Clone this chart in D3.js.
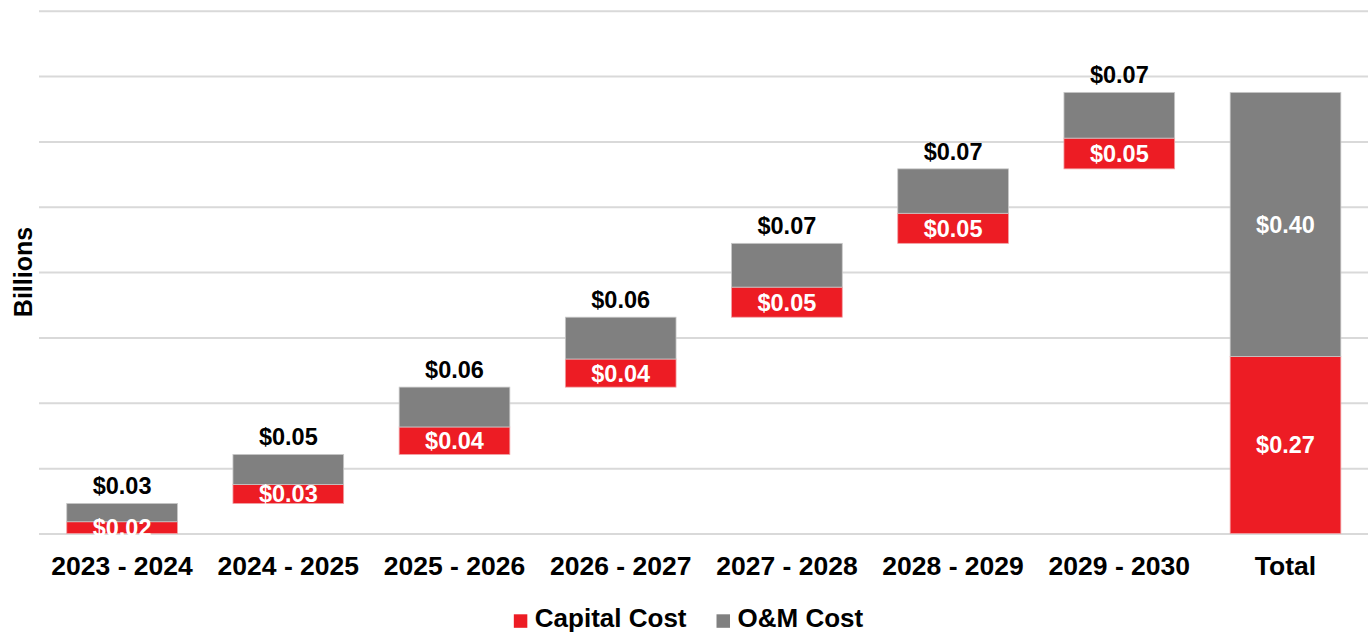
<!DOCTYPE html>
<html>
<head>
<meta charset="utf-8">
<script src="https://cdn.jsdelivr.net/npm/d3@7"></script>
<style>
  html, body { margin: 0; padding: 0; background: #ffffff; }
  svg { display: block; font-family: "Liberation Sans", Arial, sans-serif; }
</style>
</head>
<body>
<svg id="chart" width="1368" height="633"></svg>
<script>
// ---- data ----
const categories = ["2023 - 2024", "2024 - 2025", "2025 - 2026", "2026 - 2027", "2027 - 2028", "2028 - 2029", "2029 - 2030"];
const totalLabel = "Total";
const capitalCost = [0.018, 0.029, 0.042, 0.043, 0.046, 0.046, 0.047];
const omCost = [0.028, 0.046, 0.061, 0.064, 0.067, 0.068, 0.070];
const gridTicks = [0, 0.1, 0.2, 0.3, 0.4, 0.5, 0.6, 0.7, 0.8];
const seriesNames = ["Capital Cost", "O&M Cost"];
const yTitle = "Billions";

// ---- styles ----
const RED = "#ED1C24", GRAY = "#808080";
const W = 1368, H = 633;
const svg = d3.select("#chart");
svg.append("rect").attr("width", W).attr("height", H).attr("fill", "#fff");

// ---- build waterfall rows ----
let cum = 0;
const rows = categories.map((c, i) => {
  const base = cum;
  cum += capitalCost[i] + omCost[i];
  return { cat: c, base, cap: capitalCost[i], om: omCost[i], total: false };
});
rows.push({ cat: totalLabel, base: 0, cap: d3.sum(capitalCost), om: d3.sum(omCost), total: true });

const x = d3.scaleBand().domain(rows.map(d => d.cat)).range([39, 1368.6]).paddingInner(0.334).paddingOuter(0.167);
const y = d3.scaleLinear().domain([0, 0.8]).range([533.5, 10.7]);
const fmt = v => "$" + d3.format(".2f")(v);

// gridlines
const grid = svg.append("g").attr("transform", "translate(39,0)")
  .call(d3.axisLeft(y).tickValues(gridTicks).tickSize(-(W - 39)).tickFormat(""));
grid.select(".domain").remove();
grid.selectAll(".tick line").attr("stroke", "#d9d9d9").attr("stroke-width", 2);

// bars
const g = svg.append("g");
const bar = g.selectAll("g.bar").data(rows).join("g").attr("class", "bar");
bar.append("rect")
  .attr("x", d => x(d.cat)).attr("width", x.bandwidth())
  .attr("y", d => y(d.base + d.cap)).attr("height", d => y(d.base) - y(d.base + d.cap))
  .attr("fill", RED).attr("stroke", "#f0a0a3").attr("stroke-width", 0.8);
bar.append("rect")
  .attr("x", d => x(d.cat)).attr("width", x.bandwidth())
  .attr("y", d => y(d.base + d.cap + d.om)).attr("height", d => y(d.base + d.cap) - y(d.base + d.cap + d.om))
  .attr("fill", GRAY).attr("stroke", "#c8c8c8").attr("stroke-width", 0.8);

// red labels (white, centred in capital segment)
bar.append("text")
  .attr("x", d => x(d.cat) + x.bandwidth() / 2)
  .attr("y", d => (y(d.base) + y(d.base + d.cap)) / 2)
  .attr("dy", "0.36em")
  .attr("text-anchor", "middle").attr("fill", "#fff")
  .attr("font-size", 23.5).attr("font-weight", "bold")
  .text(d => fmt(d.cap));

// O&M labels: above bar (black) for years, inside (white) for total
bar.append("text")
  .attr("x", d => x(d.cat) + x.bandwidth() / 2)
  .attr("y", d => d.total ? (y(d.base + d.cap) + y(d.base + d.cap + d.om)) / 2 : y(d.base + d.cap + d.om) - 9)
  .attr("dy", d => d.total ? "0.36em" : 0)
  .attr("text-anchor", "middle").attr("fill", d => d.total ? "#fff" : "#000")
  .attr("font-size", 23.5).attr("font-weight", "bold")
  .text(d => fmt(d.om));

// x axis labels
const xa = svg.append("g").attr("transform", "translate(0,533.5)")
  .call(d3.axisBottom(x).tickSize(0).tickPadding(0));
xa.select(".domain").remove();
xa.selectAll(".tick text")
  .attr("y", 41).attr("dy", 0)
  .attr("font-size", 26.5).attr("font-weight", "bold").attr("fill", "#000")
  .attr("font-family", "Liberation Sans, Arial, sans-serif");

// y title
svg.append("text")
  .attr("transform", "translate(31.5,272) rotate(-90)")
  .attr("text-anchor", "middle")
  .attr("font-size", 25).attr("font-weight", "bold").attr("fill", "#000")
  .text(yTitle);

// legend
const legend = svg.append("g");
const colors = [RED, GRAY];
let lx = 0;
const items = seriesNames.map((n, i) => {
  const it = legend.append("g");
  it.append("rect").attr("x", 0).attr("y", -13).attr("width", 13.5).attr("height", 13.5).attr("fill", colors[i]);
  const t = it.append("text").attr("x", 21).attr("y", 0)
    .attr("font-size", 26).attr("font-weight", "bold").attr("fill", "#000").text(n);
  return { it, w: 21 + t.node().getComputedTextLength() };
});
items.forEach((d, i) => {
  d.it.attr("transform", `translate(${lx},0)`);
  lx += d.w + (i < items.length - 1 ? 30 : 0);
});
legend.attr("transform", `translate(${688.5 - lx / 2},627.3)`);
</script>
</body>
</html>
